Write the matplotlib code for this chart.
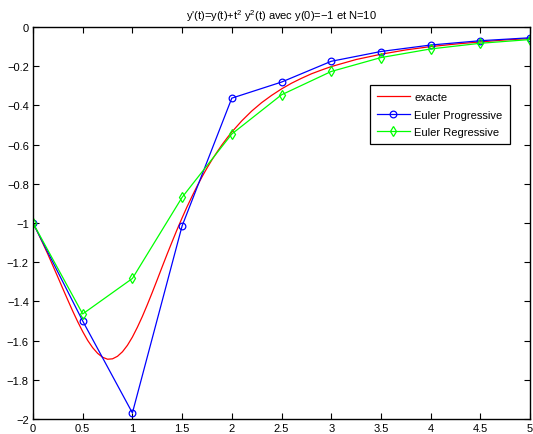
import matplotlib
matplotlib.use("Agg")
import matplotlib.pyplot as plt

# exact solution
t_exact = [0.0, 0.05, 0.1, 0.15, 0.2, 0.25, 0.3, 0.35, 0.4, 0.45, 0.5, 0.55, 0.6,
           0.65, 0.7, 0.75, 0.8, 0.85, 0.9, 0.95, 1.0, 1.05, 1.1, 1.15, 1.2, 1.25,
           1.3, 1.35, 1.4, 1.45, 1.5, 1.55, 1.6, 1.65, 1.7, 1.75, 1.8, 1.85, 1.9,
           1.95, 2.0, 2.1, 2.2, 2.3, 2.4, 2.5, 2.6, 2.7, 2.8, 2.9, 3.0, 3.25, 3.5,
           3.75, 4.0, 4.25, 4.5, 4.75, 5.0]
y_exact = [-1.0, -1.051, -1.105, -1.160, -1.218, -1.276, -1.335, -1.393, -1.450,
           -1.504, -1.554, -1.599, -1.636, -1.665, -1.685, -1.695, -1.693, -1.680,
           -1.657, -1.624, -1.582, -1.532, -1.477, -1.417, -1.354, -1.289, -1.223,
           -1.158, -1.095, -1.033, -0.974, -0.917, -0.864, -0.813, -0.765, -0.720,
           -0.678, -0.639, -0.602, -0.568, -0.536, -0.479, -0.429, -0.386, -0.349,
           -0.316, -0.287, -0.262, -0.239, -0.220, -0.202, -0.166, -0.139, -0.117,
           -0.100, -0.087, -0.076, -0.066, -0.059]

t_nodes = [0, 0.5, 1, 1.5, 2, 2.5, 3, 3.5, 4, 4.5, 5]
y_prog = [-1.0, -1.5, -1.969, -1.015, -0.363, -0.281, -0.175, -0.125, -0.092, -0.070, -0.055]
y_regr = [-1.0, -1.464, -1.283, -0.869, -0.546, -0.346, -0.227, -0.156, -0.112, -0.083, -0.064]

labels = ["exacte", "Euler Progressive", "Euler Regressive"]
title = "y'(t)=y(t)+t$^2$ y$^2$(t) avec y(0)=\u22121 et N=10"

plt.rcParams['font.family'] = ['Liberation Sans', 'DejaVu Sans']
plt.rcParams['mathtext.fontset'] = 'custom'
plt.rcParams['mathtext.rm'] = 'Liberation Sans'
plt.rcParams['mathtext.it'] = 'Liberation Sans'

fig = plt.figure(figsize=(5.33, 4.35), dpi=100)
ax = fig.add_axes([33/533, 15/435, 497/533, 392/435])

ax.plot(t_exact, y_exact, color='red', lw=0.9, label=labels[0])
ax.plot(t_nodes, y_prog, color='blue', lw=0.9, marker='o', ms=4.8, mfc='none',
        mew=0.9, label=labels[1])
ax.plot(t_nodes, y_regr, color='#00ff00', lw=0.9, marker='d', ms=5.5, mfc='none',
        mew=0.9, label=labels[2])

ax.set_xlim(0, 5)
ax.set_ylim(-2, 0)
ax.set_xticks(t_nodes)
ax.set_xticklabels(['0', '0.5', '1', '1.5', '2', '2.5', '3', '3.5', '4', '4.5', '5'])
yt = [0, -0.2, -0.4, -0.6, -0.8, -1, -1.2, -1.4, -1.6, -1.8, -2]
ax.set_yticks(yt)
ax.set_yticklabels(['0'] + ['\u2212' + s for s in
                   ['0.2', '0.4', '0.6', '0.8', '1', '1.2', '1.4', '1.6', '1.8', '2']])
ax.tick_params(direction='in', top=True, right=True, labelsize=8, length=4,
               width=0.8, pad=3)
for s in ax.spines.values():
    s.set_linewidth(1.0)

ax.set_title(title, fontsize=8, pad=6)

leg = ax.legend(loc='upper left', bbox_to_anchor=(336.5/497, (420-86)/392),
                fontsize=8, frameon=True, fancybox=False, edgecolor='black',
                framealpha=1, borderpad=0.63, handlelength=3.0, labelspacing=0.68,
                handletextpad=0.4, borderaxespad=0)
leg.get_frame().set_linewidth(0.9)

fig.savefig("out.png", dpi=100)
